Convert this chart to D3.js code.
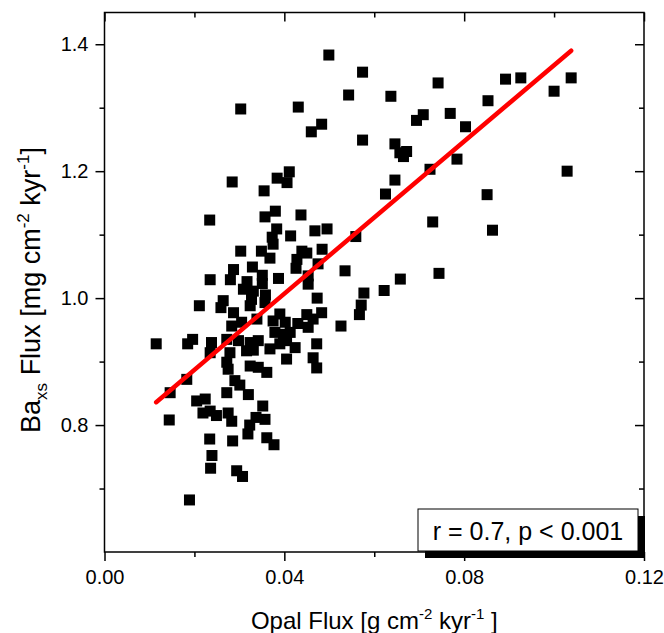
<!DOCTYPE html>
<html>
<head>
<meta charset="utf-8">
<script src="https://d3js.org/d3.v7.min.js"></script>
<style>
  body { margin: 0; background: #fff; }
  text { font-family: "Liberation Sans", Arial, sans-serif; fill: #000; }
</style>
</head>
<body>
<script>
// opal flux [g cm-2 kyr-1]
const opal = [
  0.0499, 0.0574, 0.0543, 0.0303, 0.0431, 0.0483, 0.0460, 0.0574, 0.0742, 0.0637,
  0.0892, 0.0926, 0.1038, 0.1000, 0.0853, 0.0709, 0.0694, 0.0769, 0.0803, 0.0646,
  0.0672, 0.0657, 0.0665, 0.0784, 0.0724, 0.1029, 0.0646, 0.0625, 0.0851, 0.0411,
  0.0384, 0.0406, 0.0284, 0.0355, 0.0234, 0.0380, 0.0357, 0.0437, 0.0383, 0.0373,
  0.0414, 0.0375, 0.0468, 0.0495, 0.0559, 0.0730, 0.0863, 0.0303, 0.0349, 0.0439,
  0.0450, 0.0484, 0.0368, 0.0475, 0.0428, 0.0426, 0.0535, 0.0329, 0.0287, 0.0235,
  0.0280, 0.0317, 0.0351, 0.0351, 0.0387, 0.0453, 0.0453, 0.0744, 0.0658, 0.0622,
  0.0577, 0.0309, 0.0331, 0.0358, 0.0327, 0.0264, 0.0473, 0.0211, 0.0259, 0.0287,
  0.0324, 0.0357, 0.0390, 0.0375, 0.0402, 0.0283, 0.0305, 0.0339, 0.0430, 0.0450,
  0.0464, 0.0483, 0.0453, 0.0379, 0.0398, 0.0413, 0.0526, 0.0571, 0.0567, 0.0115,
  0.0185, 0.0196, 0.0238, 0.0272, 0.0298, 0.0324, 0.0342, 0.0316, 0.0279, 0.0331,
  0.0368, 0.0390, 0.0405, 0.0424, 0.0472, 0.0235, 0.0405, 0.0272, 0.0275, 0.0324,
  0.0342, 0.0361, 0.0464, 0.0472, 0.0183, 0.0290, 0.0301, 0.0146, 0.0272, 0.0320,
  0.0205, 0.0224, 0.0219, 0.0235, 0.0249, 0.0275, 0.0283, 0.0352, 0.0337, 0.0357,
  0.0323, 0.0319, 0.0144, 0.0234, 0.0285, 0.0361, 0.0377, 0.0239, 0.0236, 0.0294,
  0.0307, 0.0189
];

// Ba excess flux [mg cm-2 kyr-1], same order
const baxs = [
  1.383, 1.356, 1.320, 1.298, 1.301, 1.274, 1.262, 1.249, 1.339, 1.318,
  1.345, 1.347, 1.347, 1.326, 1.311, 1.289, 1.280, 1.291, 1.270, 1.243,
  1.231, 1.229, 1.223, 1.219, 1.203, 1.200, 1.186, 1.164, 1.163, 1.199,
  1.189, 1.182, 1.183, 1.169, 1.123, 1.137, 1.128, 1.131, 1.109, 1.096,
  1.098, 1.085, 1.106, 1.109, 1.097, 1.120, 1.107, 1.074, 1.074, 1.074,
  1.071, 1.077, 1.063, 1.054, 1.061, 1.047, 1.043, 1.049, 1.045, 1.029,
  1.029, 1.026, 1.036, 1.023, 1.031, 1.035, 1.022, 1.039, 1.030, 1.012,
  1.008, 1.014, 1.011, 1.005, 0.998, 0.996, 1.000, 0.988, 0.985, 0.977,
  0.988, 0.993, 0.975, 0.964, 0.962, 0.956, 0.962, 0.967, 0.960, 0.974,
  0.967, 0.977, 0.954, 0.946, 0.943, 0.946, 0.956, 0.989, 0.974, 0.928,
  0.928, 0.935, 0.930, 0.935, 0.933, 0.930, 0.933, 0.917, 0.914, 0.918,
  0.920, 0.928, 0.933, 0.922, 0.928, 0.914, 0.904, 0.899, 0.888, 0.893,
  0.891, 0.883, 0.906, 0.890, 0.872, 0.870, 0.863, 0.851, 0.851, 0.848,
  0.838, 0.841, 0.819, 0.822, 0.815, 0.819, 0.806, 0.830, 0.812, 0.809,
  0.800, 0.786, 0.808, 0.778, 0.775, 0.780, 0.769, 0.752, 0.732, 0.728,
  0.719, 0.682
];

const xTicks = [0, 0.04, 0.08, 0.12];
const xMinorTicks = [0.02, 0.06, 0.10];
const yTicks = [0.8, 1.0, 1.2, 1.4];
const yMinorTicks = [0.7, 0.9, 1.1, 1.3];

// least squares line
const fitRange = [0.0115, 0.1038];
const fitSlope = 6.0;
const fitIntercept = 0.767;
const statsText = 'r = 0.7, p < 0.001';

const WIDTH = 664;
const HEIGHT = 633;
const MARGIN = {top: 12.5, right: 20, bottom: 81, left: 104.5};

const SVG = d3.select('body')
  .append('svg')
  .attr('width', WIDTH)
  .attr('height', HEIGHT);

const xScale = d3.scaleLinear()
  .domain([0, 0.12])
  .range([MARGIN.left, WIDTH - MARGIN.right]);
const yScale = d3.scaleLinear()
  .domain([0.6, 1.45])
  .range([HEIGHT - MARGIN.bottom, MARGIN.top]);

const x0 = xScale.range()[0], x1 = xScale.range()[1];
const y0 = yScale.range()[0], y1 = yScale.range()[1];

// axes: outer ticks on left/bottom, inner ticks on top/right
function axisGroup(axis, transform, showLabels) {
  const g = SVG.append('g')
    .attr('transform', transform)
    .call(axis);
  g.select('.domain').remove();
  g.selectAll('line').attr('stroke', '#000').attr('stroke-width', 1.5);
  g.selectAll('text').style('font-size', '20px').attr('fill', '#000');
  if (!showLabels) g.selectAll('text').remove();
  return g;
}

axisGroup(d3.axisBottom(xScale).tickValues(xTicks).tickSize(9).tickPadding(9)
  .tickFormat(d3.format('.2f')), `translate(0,${y0})`, true);
axisGroup(d3.axisBottom(xScale).tickValues(xMinorTicks).tickSize(5),
  `translate(0,${y0})`, false);
axisGroup(d3.axisBottom(xScale).tickValues(xTicks).tickSize(9),
  `translate(0,${y1})`, false);
axisGroup(d3.axisBottom(xScale).tickValues(xMinorTicks).tickSize(5),
  `translate(0,${y1})`, false);

axisGroup(d3.axisLeft(yScale).tickValues(yTicks).tickSize(9).tickPadding(7)
  .tickFormat(d3.format('.1f')), `translate(${x0},0)`, true);
axisGroup(d3.axisLeft(yScale).tickValues(yMinorTicks).tickSize(5),
  `translate(${x0},0)`, false);
axisGroup(d3.axisLeft(yScale).tickValues(yTicks).tickSize(9),
  `translate(${x1},0)`, false);
axisGroup(d3.axisLeft(yScale).tickValues(yMinorTicks).tickSize(5),
  `translate(${x1},0)`, false);

// frame
SVG.append('rect')
  .attr('x', x0)
  .attr('y', y1)
  .attr('width', x1 - x0)
  .attr('height', y0 - y1)
  .attr('fill', 'none')
  .attr('stroke', '#000')
  .attr('stroke-width', 1.5);

// points
const SIZE = 11;
SVG.append('g')
  .selectAll('rect')
  .data(d3.zip(opal, baxs))
  .enter()
  .append('rect')
  .attr('x', d => xScale(d[0]) - SIZE / 2)
  .attr('y', d => yScale(d[1]) - SIZE / 2)
  .attr('width', SIZE)
  .attr('height', SIZE)
  .attr('fill', '#000');

// regression line
SVG.append('path')
  .datum(fitRange)
  .attr('d', d3.line()
    .x(d => xScale(d))
    .y(d => yScale(fitIntercept + fitSlope * d)))
  .attr('fill', 'none')
  .attr('stroke', '#ff0000')
  .attr('stroke-width', 4.5)
  .attr('stroke-linecap', 'round');

// stats box with drop shadow
const box = {x: 418, y: 509, w: 220, h: 42};
SVG.append('rect')
  .attr('x', box.x + 7).attr('y', box.y + 7)
  .attr('width', box.w).attr('height', box.h)
  .attr('fill', '#000');
SVG.append('rect')
  .attr('x', box.x).attr('y', box.y)
  .attr('width', box.w).attr('height', box.h)
  .attr('fill', '#fff')
  .attr('stroke', '#000')
  .attr('stroke-width', 1);
SVG.append('text')
  .attr('x', box.x + box.w / 2)
  .attr('y', box.y + 31)
  .attr('text-anchor', 'middle')
  .style('font-size', '25px')
  .text(statsText);

// axis titles
const xTitle = SVG.append('text')
  .attr('x', (x0 + x1) / 2)
  .attr('y', 629)
  .attr('text-anchor', 'middle')
  .style('font-size', '24px');
xTitle.append('tspan').text('Opal Flux [g cm');
xTitle.append('tspan').attr('dy', -10).style('font-size', '15px').text('-2');
xTitle.append('tspan').attr('dy', 10).text(' kyr');
xTitle.append('tspan').attr('dy', -10).style('font-size', '15px').text('-1');
xTitle.append('tspan').attr('dy', 10).text(' ]');

const yTitle = SVG.append('text')
  .attr('transform', 'translate(40,290) rotate(-90)')
  .attr('text-anchor', 'middle')
  .style('font-size', '27px');
yTitle.append('tspan').text('Ba');
yTitle.append('tspan').attr('dy', 7).style('font-size', '17px').text('xs');
yTitle.append('tspan').attr('dy', -7).text(' Flux [mg cm');
yTitle.append('tspan').attr('dy', -11).style('font-size', '17px').text('-2');
yTitle.append('tspan').attr('dy', 11).text(' kyr');
yTitle.append('tspan').attr('dy', -11).style('font-size', '17px').text('-1');
yTitle.append('tspan').attr('dy', 11).text(']');
</script>
</body>
</html>
